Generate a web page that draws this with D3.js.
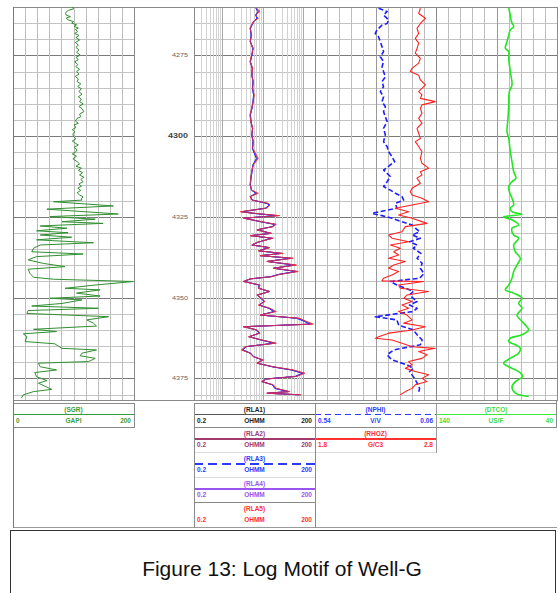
<!DOCTYPE html>
<html><head><meta charset="utf-8">
<script src="https://cdn.jsdelivr.net/npm/d3@7"></script>
<style>body{margin:0;background:#fff;}svg{display:block;font-family:Arial,"Liberation Sans",sans-serif;}</style>
</head><body><svg id="c" width="558" height="593"></svg>
<script>
// ---------------- DATA ----------------
const depthLabels = [4275, 4300, 4325, 4350, 4375];

const grDepth = [4260.0,4260.6,4261.0,4261.5,4262.0,4262.5,4263.0,4263.4,4264.0,4264.5,4265.0,4265.5,4266.0,4266.5,4267.0,4267.6,4268.2,4268.8,4269.5,4270.2,4271.0,4271.8,4272.5,4273.3,4274.0,4274.9,4275.6,4276.3,4277.0,4277.8,4278.5,4279.3,4280.0,4280.8,4281.5,4282.3,4283.1,4283.8,4284.6,4285.3,4286.2,4287.0,4287.8,4288.5,4289.3,4290.0,4290.8,4291.5,4292.4,4293.2,4294.0,4294.5,4295.3,4296.0,4296.5,4297.3,4298.0,4298.6,4299.3,4300.1,4300.8,4301.5,4302.2,4302.7,4303.5,4304.2,4304.8,4305.5,4306.2,4307.0,4307.9,4308.6,4309.3,4309.9,4310.6,4311.3,4312.0,4312.7,4313.4,4314.1,4314.8,4315.5,4316.1,4316.8,4317.5,4318.2,4318.8,4319.3,4319.8,4320.3,4321.6,4322.6,4324.1,4324.9,4325.7,4326.5,4327.0,4327.8,4328.5,4329.3,4329.9,4330.6,4331.3,4332.1,4333.0,4333.7,4334.7,4335.8,4336.5,4337.3,4338.3,4339.4,4340.4,4341.2,4342.5,4343.7,4344.3,4345.0,4346.1,4347.1,4347.6,4348.6,4349.5,4350.2,4350.7,4351.8,4352.6,4353.3,4354.0,4354.9,4355.9,4356.9,4357.9,4358.8,4359.8,4360.5,4361.2,4362.1,4363.6,4364.3,4365.7,4366.2,4367.2,4368.0,4368.8,4369.8,4370.3,4371.4,4372.4,4373.2,4374.5,4375.7,4376.5,4378.4,4379.1,4380.1,4381.1];
const grValue = [98,100,92,88,87,88,95,88,91,100,97,105,101,108,103,107,102,109,104,110,103,108,104,109,105,111,104,108,102,107,104,110,105,109,103,108,106,112,107,113,109,114,108,113,110,116,109,114,117,110,112,106,103,108,101,104,98,102,99,100,104,98,103,108,101,106,104,98,105,99,106,110,104,113,108,115,110,117,112,116,109,113,107,112,106,110,116,113,114,67,166,56,174,61,136,81,149,45,89,39,91,45,97,39,133,45,34,31,116,39,25,50,86,25,28,34,67,199,136,86,144,105,144,61,114,81,31,141,25,23,158,122,133,138,34,72,17,23,20,69,81,138,114,111,136,125,42,45,72,36,39,56,42,64,34,17,14];

const resDepth = [4260.4,4261.4,4262.5,4263.5,4264.5,4266.6,4268.7,4270.7,4272.8,4274.9,4276.9,4279.0,4281.1,4283.1,4285.2,4287.2,4289.3,4291.4,4293.4,4295.5,4297.6,4299.6,4301.7,4303.8,4306.9,4308.9,4311.0,4313.0,4315.1,4316.7,4317.7,4318.7,4319.8,4320.8,4321.3,4322.3,4323.4,4323.9,4324.6,4325.4,4326.5,4327.3,4328.0,4329.0,4330.1,4330.8,4331.6,4332.9,4333.7,4334.5,4335.5,4336.3,4337.0,4337.8,4338.8,4339.9,4340.9,4341.9,4342.8,4343.5,4344.2,4345.0,4346.1,4347.1,4348.1,4349.2,4350.2,4351.2,4352.3,4353.3,4354.3,4355.4,4356.4,4357.4,4358.2,4359.0,4360.0,4361.0,4362.1,4363.1,4364.1,4365.2,4366.2,4367.2,4368.3,4369.3,4370.3,4371.4,4372.4,4373.4,4374.4,4375.2,4376.0,4377.0,4378.1,4379.1,4379.6,4380.1];
const rla1 = [7.0,8.0,6.7,7.5,6.0,5.0,5.3,5.0,5.8,5.4,5.0,5.6,5.4,5.8,5.7,6.1,5.8,5.4,5.0,5.2,5.7,5.4,5.8,5.7,7.4,5.8,5.4,5.1,5.0,5.4,7.2,5.0,5.5,13.0,15.0,12.2,3.0,6.2,24,3.5,9.2,20.5,18.0,7.4,16.2,5.0,17.5,7.4,5.5,14.8,8.0,30,8.8,52,13.0,64,18.8,71,26,16.5,5.0,3.4,8.5,8.0,15.0,7.3,9.3,11.2,8.1,14.8,20,8.8,78,116,165,3.4,7.1,8.5,4.6,9.2,20.5,3.8,3.1,5.0,6.0,10.2,7.3,17.8,54,105,67,12.3,9.6,18,21,45,13,86];
const rla2 = [7.1,8.3,6.6,7.7,5.9,4.9,5.4,4.9,5.9,5.4,4.9,5.7,5.4,5.9,5.7,6.1,5.9,5.4,4.9,5.1,5.7,5.4,5.9,5.7,7.6,5.9,5.4,5.1,4.9,5.4,7.5,4.9,5.5,13.5,15.1,12.4,2.9,6.4,25,3.4,9.4,21,18.2,7.3,16.6,4.9,18,7.3,5.4,15,7.9,31,8.7,55,12.8,67,18.6,74,26.5,16.8,4.9,3.3,8.6,7.9,15.2,7.2,9.4,11.4,8.0,15,21,8.7,80,120,172,3.3,7.2,8.6,4.5,9.4,21,3.7,3.0,4.9,5.9,10.4,7.2,18.2,56,108,68,12.5,9.5,18.3,21.5,46,12.8,90];
const rla3 = [6.8,7.6,6.9,7.2,6.1,5.0,5.2,5.0,5.7,5.5,5.0,5.5,5.5,5.8,5.6,6.0,5.8,5.5,5.0,5.2,5.6,5.5,5.8,5.6,7.0,5.8,5.5,5.2,5.0,5.3,6.8,5.0,5.6,12.5,14.8,11.9,3.2,6.0,21,3.6,9.0,19.5,17.5,7.5,15.8,5.2,16.5,7.6,5.6,14.2,8.2,28,9.0,48,13.5,58,19,66,25,16,5.0,3.6,8.2,8.1,14.5,7.5,9.1,10.8,8.3,14.2,19,9.0,70,110,150,3.6,7.0,8.3,4.8,9.0,19,3.9,3.3,5.1,6.1,9.8,7.5,17,50,98,64,12.0,9.8,17.5,20,42,13.5,80];
const rla4 = [6.9,7.8,6.8,7.3,6.0,5.0,5.2,5.0,5.7,5.5,5.0,5.5,5.5,5.8,5.6,6.0,5.8,5.5,5.0,5.2,5.6,5.5,5.8,5.6,7.2,5.8,5.5,5.2,5.0,5.3,7.0,5.0,5.6,12.8,14.9,12.0,3.1,6.1,22,3.5,9.1,20,17.8,7.5,16,5.1,17,7.5,5.5,14.5,8.1,29,8.9,50,13.2,61,18.9,68,25.5,16.2,5.0,3.5,8.3,8.0,14.8,7.4,9.2,11,8.2,14.5,19.5,8.9,74,113,158,3.5,7.0,8.4,4.7,9.1,19.8,3.8,3.2,5.0,6.0,10,7.4,17.4,52,101,65,12.1,9.7,17.7,20.5,43,13.2,83];
const rla5 = [7.2,8.7,6.5,7.9,5.9,4.9,5.4,4.9,5.9,5.4,4.9,5.7,5.4,5.9,5.7,6.2,5.9,5.4,4.9,5.1,5.7,5.4,5.9,5.7,7.9,5.9,5.4,5.1,4.9,5.4,7.9,4.9,5.4,13.9,15.3,12.7,2.8,6.5,27,3.3,9.5,22,18.5,7.2,17,4.9,18.5,7.2,5.4,15.3,7.9,33,8.7,58,12.7,70,18.5,77,27,17,4.9,3.3,8.7,7.9,15.3,7.2,9.5,11.5,7.9,15.3,22,8.7,85,124,182,3.3,7.2,8.7,4.5,9.5,22,3.7,3.0,4.9,5.9,10.5,7.2,18.5,58,113,70,12.7,9.5,18.5,22,48,12.7,93];

const nphiDepth = [4260.4,4261.4,4262.5,4264.0,4265.1,4265.6,4267.1,4268.2,4269.2,4270.7,4272.3,4273.8,4275.4,4276.9,4278.5,4280.0,4281.6,4283.1,4284.7,4286.2,4287.8,4289.3,4290.9,4292.4,4294.0,4295.5,4297.6,4299.6,4301.7,4303.2,4304.8,4306.3,4307.9,4308.9,4310.5,4311.5,4312.5,4314.1,4315.6,4316.7,4317.7,4318.7,4319.8,4320.8,4322.3,4323.9,4324.6,4325.4,4326.5,4327.5,4328.5,4329.6,4330.6,4331.6,4332.7,4333.7,4334.7,4336.3,4337.8,4339.4,4340.9,4342.5,4344.0,4345.0,4346.1,4347.1,4348.1,4349.2,4350.2,4351.2,4352.3,4353.3,4354.3,4355.9,4356.9,4358.5,4360.0,4361.5,4363.1,4364.6,4366.2,4367.7,4369.3,4370.8,4371.9,4372.9,4375.0,4376.5,4378.1,4379.6];
const nphi = [0.288,0.254,0.268,0.248,0.254,0.274,0.294,0.301,0.288,0.281,0.274,0.268,0.281,0.268,0.274,0.268,0.261,0.274,0.268,0.281,0.268,0.274,0.261,0.268,0.261,0.254,0.268,0.261,0.268,0.254,0.248,0.235,0.224,0.241,0.268,0.254,0.241,0.254,0.268,0.241,0.221,0.195,0.188,0.221,0.215,0.314,0.274,0.235,0.195,0.155,0.142,0.125,0.155,0.122,0.165,0.135,0.150,0.120,0.135,0.115,0.122,0.108,0.125,0.241,0.215,0.180,0.150,0.165,0.150,0.135,0.165,0.135,0.150,0.301,0.215,0.208,0.150,0.135,0.115,0.122,0.228,0.254,0.235,0.175,0.150,0.165,0.145,0.135,0.125,0.130];

const rhozDepth = [4260.4,4262.0,4263.5,4265.1,4266.6,4268.2,4269.7,4271.2,4272.8,4274.3,4275.9,4277.4,4279.0,4280.0,4281.1,4282.6,4284.1,4285.2,4286.2,4287.2,4288.3,4289.3,4290.3,4291.4,4292.9,4294.5,4296.0,4297.6,4299.1,4300.7,4301.7,4303.2,4304.8,4306.9,4308.4,4309.9,4311.0,4312.0,4313.0,4314.6,4316.1,4317.2,4318.2,4319.2,4320.3,4321.3,4322.3,4323.4,4324.4,4325.4,4327.0,4328.0,4329.6,4330.6,4331.6,4332.7,4333.7,4334.7,4335.8,4336.8,4337.8,4338.8,4339.9,4340.9,4341.9,4343.0,4344.0,4344.8,4345.0,4346.1,4347.1,4348.1,4349.2,4350.2,4351.2,4352.3,4353.3,4354.3,4355.4,4356.9,4357.9,4359.0,4360.0,4361.0,4362.1,4362.6,4363.1,4364.1,4365.2,4365.7,4366.7,4367.7,4368.8,4369.8,4370.8,4371.9,4372.9,4373.9,4375.0,4376.0,4377.0,4378.1,4379.1,4380.1];
const rhoz = [2.671,2.657,2.712,2.671,2.643,2.657,2.629,2.657,2.643,2.629,2.671,2.657,2.602,2.588,2.657,2.671,2.712,2.684,2.657,2.684,2.671,2.794,2.684,2.671,2.684,2.657,2.684,2.643,2.657,2.671,2.629,2.657,2.684,2.671,2.684,2.739,2.671,2.684,2.643,2.671,2.602,2.588,2.602,2.684,2.739,2.602,2.464,2.574,2.491,2.602,2.726,2.547,2.519,2.409,2.436,2.574,2.423,2.505,2.450,2.491,2.409,2.547,2.450,2.409,2.491,2.436,2.367,2.354,2.698,2.491,2.505,2.739,2.560,2.533,2.602,2.519,2.574,2.491,2.560,2.602,2.533,2.712,2.602,2.409,2.326,2.299,2.436,2.519,2.602,2.794,2.657,2.726,2.684,2.574,2.602,2.547,2.629,2.739,2.684,2.726,2.629,2.602,2.547,2.505];

const dtDepth = [4260.4,4262.5,4264.5,4266.1,4267.1,4268.7,4270.7,4272.8,4273.8,4275.9,4280.0,4284.1,4286.2,4290.3,4294.5,4298.6,4300.7,4304.8,4307.9,4311.0,4313.0,4314.1,4315.6,4317.2,4319.2,4321.3,4322.3,4323.4,4324.2,4325.0,4325.9,4327.5,4328.5,4330.6,4331.6,4333.7,4335.8,4337.8,4339.9,4341.9,4344.0,4346.1,4347.6,4348.6,4350.2,4351.7,4353.3,4355.4,4357.4,4360.0,4361.5,4362.6,4363.6,4364.6,4365.7,4367.2,4368.8,4370.3,4371.4,4372.9,4374.4,4376.0,4377.6,4379.6,4380.6];
const dtco = [79.9,78.6,77.7,75.8,78.6,79.9,81.3,82.7,79.9,79.9,78.6,77.2,79.4,79.9,80.5,81.3,79.9,78.6,77.2,75.8,73.9,77.2,79.9,79.4,77.2,75.8,78.6,77.2,68.9,84.1,77.2,71.7,77.2,75.8,71.7,75.8,74.4,70.3,73.1,75.8,77.2,79.9,82.7,75.8,68.9,71.7,68.9,73.1,68.9,63.4,68.9,78.6,79.9,74.4,70.3,71.7,78.6,84.1,79.9,71.7,68.4,74.4,77.2,74.4,63.4];

// ---------------- CHART ----------------
const svg = d3.select("#c");
const Y0 = 7, Y1 = 400;
const y = d3.scaleLinear().domain([4260, 4381.7]).range([Y0, Y1]);
const T = {gr:[13,134], depth:[134,194], res:[194,315], nd:[315,436], dt:[436,557]};
const xGR = d3.scaleLinear().domain([0,200]).range(T.gr);
const xRes = d3.scaleLog().domain([0.2,200]).range(T.res);
const xNphi = d3.scaleLinear().domain([0.54,0.06]).range(T.nd);
const xRhoz = d3.scaleLinear().domain([1.8,2.8]).range(T.nd);
const xDt = d3.scaleLinear().domain([140,40]).range(T.dt);

const defs = svg.append("defs");
Object.entries(T).forEach(([k,r]) => {
  defs.append("clipPath").attr("id","clip-"+k).append("rect")
    .attr("x", r[0]).attr("y", Y0).attr("width", r[1]-r[0]).attr("height", Y1-Y0);
});

const grid = svg.append("g").attr("shape-rendering","crispEdges");
const gridDepths = d3.range(4260, 4382, 5);
["gr","res","nd","dt"].forEach(k => {
  const r = T[k];
  grid.selectAll(null).data(gridDepths).enter().append("line")
    .attr("x1", r[0]).attr("x2", r[1])
    .attr("y1", d => Math.round(y(d))+0.5).attr("y2", d => Math.round(y(d))+0.5)
    .attr("stroke", d => d % 25 === 0 ? "#7a7a7a" : "#c4c4c4")
    .attr("stroke-width", d => d % 25 === 0 ? 1.2 : 1);
});
["gr","nd","dt"].forEach(k => {
  const r = T[k];
  const s = d3.scaleLinear().domain([0,10]).range(r);
  grid.selectAll(null).data(d3.range(1,10)).enter().append("line")
    .attr("x1", d => Math.round(s(d))+0.5).attr("x2", d => Math.round(s(d))+0.5)
    .attr("y1", Y0).attr("y2", Y1)
    .attr("stroke", d => d === 5 && k !== "gr" ? "#9a9a9a" : "#bdbdbd");
});
const logTicks = [];
[-1,0,1,2].forEach(e => { for (let k=1;k<=9;k++){ const v = +(k*Math.pow(10,e)).toPrecision(3); if (v>0.2 && v<200) logTicks.push(v);} });
grid.selectAll(null).data(logTicks).enter().append("line")
  .attr("x1", d => Math.round(xRes(d))+0.5).attr("x2", d => Math.round(xRes(d))+0.5)
  .attr("y1", Y0).attr("y2", Y1)
  .attr("stroke", d => [1,10,100].includes(d) ? "#a8a8a8" : "#d2d2d2");
[13,134,194,315,436,557].forEach(x => {
  grid.append("line").attr("x1", x+0.5).attr("x2", x+0.5).attr("y1", Y0).attr("y2", Y1)
    .attr("stroke", "#8a8a8a").attr("stroke-width", 1.2);
});
grid.append("line").attr("x1",13).attr("x2",558).attr("y1",Y0+0.5).attr("y2",Y0+0.5).attr("stroke","#8a8a8a");
grid.append("line").attr("x1",13).attr("x2",558).attr("y1",Y1+0.5).attr("y2",Y1+0.5).attr("stroke","#8a8a8a");

svg.append("g").selectAll("text").data(depthLabels).enter().append("text")
  .attr("x", 188).attr("y", d => y(d) + 2)
  .attr("text-anchor","end")
  .attr("font-size", d => d === 4300 ? 6.5 : 5.2)
  .attr("font-weight", d => d === 4300 ? "bold" : "normal")
  .attr("fill", d => d === 4300 ? "#444" : "#666")
  .attr("textLength", d => d === 4300 ? 20 : 16)
  .attr("lengthAdjust","spacingAndGlyphs")
  .text(d => d);

function drawCurve(track, depths, vals, xs, color, width, dash, curve, opacity) {
  const n = Math.min(depths.length, vals.length);
  const pts = d3.range(n).map(i => [depths[i], vals[i]]);
  const line = d3.line().x(p => xs(p[1])).y(p => y(p[0])).curve(curve || d3.curveLinear);
  svg.append("path").attr("clip-path","url(#clip-"+track+")")
    .attr("d", line(pts)).attr("fill","none")
    .attr("stroke", color).attr("stroke-width", width)
    .attr("stroke-dasharray", dash || null)
    .attr("stroke-opacity", opacity == null ? 1 : opacity)
    .attr("stroke-linejoin","round");
}
drawCurve("gr", grDepth, grValue, xGR, "#2f8f2f", 1);
drawCurve("res", resDepth, rla1, xRes, "#222222", 0.7);
drawCurve("res", resDepth, rla2, xRes, "#a23a6e", 0.7);
drawCurve("res", resDepth, rla4, xRes, "#9a55f0", 0.7);
drawCurve("res", resDepth, rla3, xRes, "#2b2bff", 1.0);
drawCurve("res", resDepth, rla5, xRes, "#ff2a2a", 0.9, null, null, 0.85);
drawCurve("nd", nphiDepth, nphi, xNphi, "#1f1fff", 1.6, "5,2.5");
drawCurve("nd", rhozDepth, rhoz, xRhoz, "#ff2020", 1.1);
drawCurve("dt", dtDepth, dtco, xDt, "#22e622", 1.6, null, d3.curveCatmullRom);

// ---------------- LEGEND ----------------
const lg = svg.append("g").attr("shape-rendering","crispEdges");
const fs = 6.5;
function hline(x1,x2,yy,col,w,dash){ lg.append("line").attr("x1",x1).attr("x2",x2).attr("y1",yy).attr("y2",yy).attr("stroke",col).attr("stroke-width",w||1).attr("stroke-dasharray",dash||null); }
function vline(xx,y1,y2,col){ lg.append("line").attr("x1",xx).attr("x2",xx).attr("y1",y1).attr("y2",y2).attr("stroke",col); }
function txt(x,yy,s,col,anchor){ svg.append("text").attr("x",x).attr("y",yy).attr("font-size",fs).attr("font-weight","bold").attr("fill",col).attr("text-anchor",anchor||"middle").text(s); }
function entry(x0,x1,top,title,col,lineCol,dash,lo,unit,hi,showLine){
  txt((x0+x1)/2, top+8.8, title, col);
  if (showLine) hline(x0, x1, top+11.5, lineCol, 1.2, dash);
  txt(x0+3, top+19.8, lo, col, "start");
  txt((x0+x1)/2, top+19.8, unit, col);
  txt(x1-3, top+19.8, hi, col, "end");
}
entry(13,134,403,"(SGR)","#3c9c3c","#3c9c3c",null,"0","GAPI","200",true);
const resRows = [
  ["(RLA1)","#222","#555",null,true],
  ["(RLA2)","#a23a6e","#a23a6e",null,true],
  ["(RLA3)","#2b3bff","#2b3bff","9,5",true],
  ["(RLA4)","#9a55f0","#9a55f0",null,true],
  ["(RLA5)","#ff3030","#ff3030",null,false]
];
const rowTops = [403,427.5,452.5,477.5,502];
resRows.forEach((r,i) => entry(194,315,rowTops[i],r[0],r[1],r[2],r[3],"0.2","OHMM","200",r[4]));
entry(315,436,403,"(NPHI)","#2b3bff","#2b3bff","6,4","0.54","V/V","0.06",true);
entry(315,436,427.5,"(RHOZ)","#ff3030","#ff3030",null,"1.8","G/C3","2.8",true);
entry(436,556,403,"(DTCO)","#3fdc3f","#3fe83f",null,"140","US/F","40",true);

hline(13,134,403.5,"#8a8a8a");
hline(194,557,403.5,"#8a8a8a");
hline(13,134,427.5,"#8a8a8a");
hline(194,315,427.5,"#8a8a8a");
hline(315,436,427.5,"#8a8a8a");
hline(436,557,427.5,"#8a8a8a");
hline(194,436,452.5,"#dddddd");
hline(194,315,477.5,"#dddddd");
hline(194,315,502.5,"#888888");
hline(13,557,527.5,"#9a9a9a");
vline(13.5,Y0,528,"#777");
vline(134.5,403,428,"#8a8a8a");
vline(194.5,403,528,"#8a8a8a");
vline(315.5,403,528,"#8a8a8a");
vline(436.5,403,453,"#9a9a9a");
vline(556.5,400,428,"#8a8a8a");

svg.append("rect").attr("x",10.5).attr("y",530.5).attr("width",545).attr("height",70)
  .attr("fill","none").attr("stroke","#333").attr("stroke-width",1);
svg.append("text").attr("x",282).attr("y",576).attr("text-anchor","middle")
  .attr("font-size",21).attr("fill","#111").text("Figure 13: Log Motif of Well-G");
</script></body></html>
